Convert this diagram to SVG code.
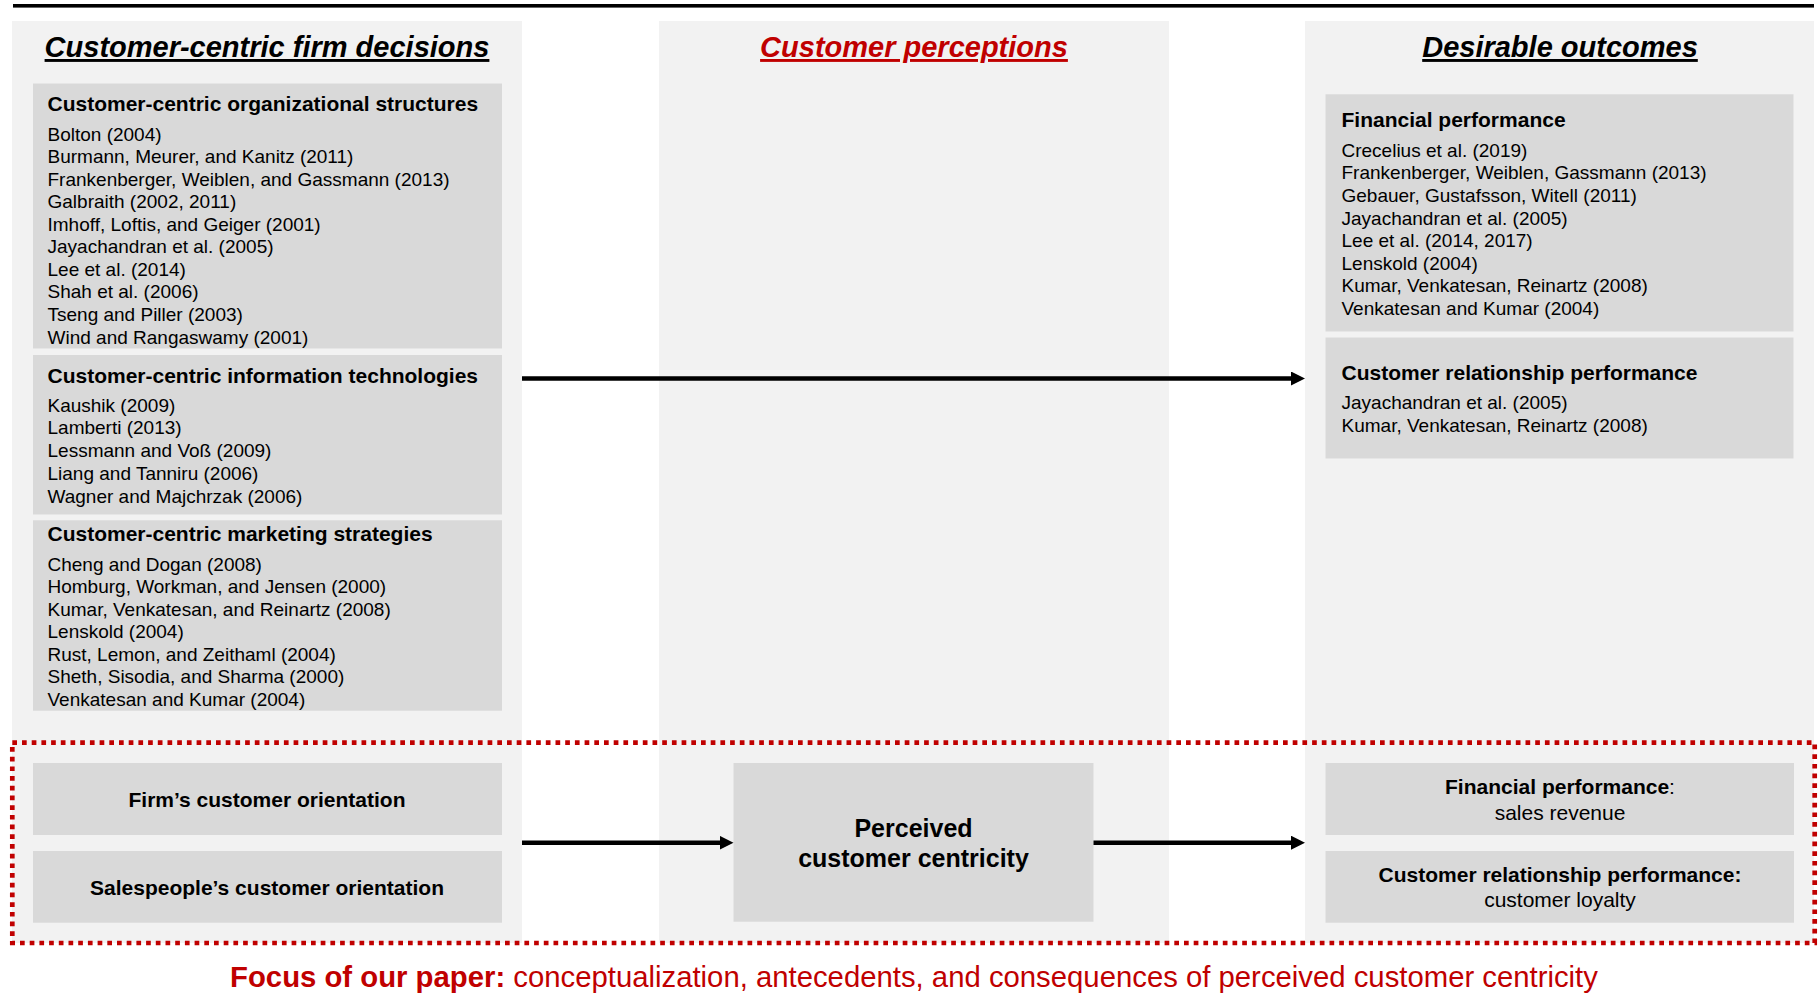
<svg xmlns="http://www.w3.org/2000/svg" width="1820" height="1006" viewBox="0 0 1820 1006">
  <style>
    text { font-family: "Liberation Sans", Arial, sans-serif; fill: #000; }
    .panel { fill: #F2F2F2; }
    .box { fill: #D9D9D9; }
    .title { font-size: 29px; font-weight: bold; font-style: italic; text-decoration: underline; text-anchor: middle; }
    .red { fill: #C00000; }
    .head { font-size: 21px; font-weight: bold; }
    .ref { font-size: 19px; }
    .lbl { font-size: 21px; font-weight: bold; text-anchor: middle; }
    .sub { font-size: 21px; font-weight: normal; }
    .big { font-size: 25px; font-weight: bold; text-anchor: middle; }
    .conn { stroke: #000; stroke-width: 4.5; fill: none; marker-end: url(#arrow); }
    .focus { fill: none; stroke: #C00000; stroke-width: 4.7; stroke-dasharray: 4.7 5; }
    .note { font-size: 29.3px; text-anchor: middle; fill: #C00000; }
  </style>
  <defs>
    <marker id="arrow" markerUnits="userSpaceOnUse" markerWidth="15" markerHeight="15" refX="1" refY="7" orient="auto">
      <path d="M0,0 L14,7 L0,14 Z" fill="#000"/>
    </marker>
  </defs>

  <rect width="1820" height="1006" fill="#FFFFFF"/>
  <!-- top rule -->
  <rect x="13" y="4" width="1801" height="3.6" fill="#000"/>

  <!-- column backgrounds -->
  <g id="columns">
    <rect class="panel" x="12" y="21" width="510" height="922"/>
    <rect class="panel" x="659" y="21" width="510" height="922"/>
    <rect class="panel" x="1305" y="21" width="509" height="922"/>
  </g>

  <!-- column headings -->
  <g id="headings">
    <text class="title" x="267" y="57">Customer-centric firm decisions</text>
    <text class="title red" x="914" y="57">Customer perceptions</text>
    <text class="title" x="1560" y="57">Desirable outcomes</text>
  </g>

  <g id="org-structures">
    <rect class="box" x="33" y="83.5" width="469" height="265"/>
    <text class="head" x="47.5" y="111">Customer-centric organizational structures</text>
    <text class="ref" x="47.5" y="140.5">
      <tspan x="47.5">Bolton (2004)</tspan>
      <tspan x="47.5" dy="22.57">Burmann, Meurer, and Kanitz (2011)</tspan>
      <tspan x="47.5" dy="22.57">Frankenberger, Weiblen, and Gassmann (2013)</tspan>
      <tspan x="47.5" dy="22.57">Galbraith (2002, 2011)</tspan>
      <tspan x="47.5" dy="22.57">Imhoff, Loftis, and Geiger (2001)</tspan>
      <tspan x="47.5" dy="22.57">Jayachandran et al. (2005)</tspan>
      <tspan x="47.5" dy="22.57">Lee et al. (2014)</tspan>
      <tspan x="47.5" dy="22.57">Shah et al. (2006)</tspan>
      <tspan x="47.5" dy="22.57">Tseng and Piller (2003)</tspan>
      <tspan x="47.5" dy="22.57">Wind and Rangaswamy (2001)</tspan>
    </text>
  </g>

  <g id="info-tech">
    <rect class="box" x="33" y="355" width="469" height="159.5"/>
    <text class="head" x="47.5" y="382.7">Customer-centric information technologies</text>
    <text class="ref" x="47.5" y="411.7">
      <tspan x="47.5">Kaushik (2009)</tspan>
      <tspan x="47.5" dy="22.75">Lamberti (2013)</tspan>
      <tspan x="47.5" dy="22.75">Lessmann and Voß (2009)</tspan>
      <tspan x="47.5" dy="22.75">Liang and Tanniru (2006)</tspan>
      <tspan x="47.5" dy="22.75">Wagner and Majchrzak (2006)</tspan>
    </text>
  </g>

  <g id="marketing">
    <rect class="box" x="33" y="520.3" width="469" height="190.4"/>
    <text class="head" x="47.5" y="540.7">Customer-centric marketing strategies</text>
    <text class="ref" x="47.5" y="570.7">
      <tspan x="47.5">Cheng and Dogan (2008)</tspan>
      <tspan x="47.5" dy="22.55">Homburg, Workman, and Jensen (2000)</tspan>
      <tspan x="47.5" dy="22.55">Kumar, Venkatesan, and Reinartz (2008)</tspan>
      <tspan x="47.5" dy="22.55">Lenskold (2004)</tspan>
      <tspan x="47.5" dy="22.55">Rust, Lemon, and Zeithaml (2004)</tspan>
      <tspan x="47.5" dy="22.55">Sheth, Sisodia, and Sharma (2000)</tspan>
      <tspan x="47.5" dy="22.55">Venkatesan and Kumar (2004)</tspan>
    </text>
  </g>

  <g id="financial">
    <rect class="box" x="1325.5" y="94.3" width="468" height="237.2"/>
    <text class="head" x="1341.5" y="126.7">Financial performance</text>
    <text class="ref" x="1341.5" y="156.7">
      <tspan x="1341.5">Crecelius et al. (2019)</tspan>
      <tspan x="1341.5" dy="22.6">Frankenberger, Weiblen, Gassmann (2013)</tspan>
      <tspan x="1341.5" dy="22.6">Gebauer, Gustafsson, Witell (2011)</tspan>
      <tspan x="1341.5" dy="22.6">Jayachandran et al. (2005)</tspan>
      <tspan x="1341.5" dy="22.6">Lee et al. (2014, 2017)</tspan>
      <tspan x="1341.5" dy="22.6">Lenskold (2004)</tspan>
      <tspan x="1341.5" dy="22.6">Kumar, Venkatesan, Reinartz (2008)</tspan>
      <tspan x="1341.5" dy="22.6">Venkatesan and Kumar (2004)</tspan>
    </text>
  </g>

  <g id="relationship">
    <rect class="box" x="1325.5" y="337.5" width="468" height="121"/>
    <text class="head" x="1341.5" y="380">Customer relationship performance</text>
    <text class="ref" x="1341.5" y="409.3">
      <tspan x="1341.5">Jayachandran et al. (2005)</tspan>
      <tspan x="1341.5" dy="22.7">Kumar, Venkatesan, Reinartz (2008)</tspan>
    </text>
  </g>

  <!-- study focus -->
  <g id="firm-orientation">
    <rect class="box" x="33" y="763" width="469" height="72"/>
    <text class="lbl" x="267" y="807.3">Firm’s customer orientation</text>
  </g>
  <g id="sales-orientation">
    <rect class="box" x="33" y="851" width="469" height="71.7"/>
    <text class="lbl" x="267" y="895">Salespeople’s customer orientation</text>
  </g>
  <g id="perceived-centricity">
    <rect class="box" x="733.5" y="763" width="360" height="158.7"/>
    <text class="big" x="913.5" y="836.7">Perceived</text>
    <text class="big" x="913.5" y="866.7">customer centricity</text>
  </g>
  <g id="sales-revenue">
    <rect class="box" x="1325.5" y="763" width="468.5" height="72"/>
    <text class="lbl" x="1560" y="794">Financial performance<tspan font-weight="normal">:</tspan></text>
    <text class="lbl sub" x="1560" y="820">sales revenue</text>
  </g>
  <g id="loyalty">
    <rect class="box" x="1325.5" y="851" width="468.5" height="71.7"/>
    <text class="lbl" x="1560" y="881.7">Customer relationship performance:</text>
    <text class="lbl sub" x="1560" y="907.3">customer loyalty</text>
  </g>

  <g id="connectors">
    <line class="conn" x1="522" y1="378.5" x2="1292" y2="378.5"/>
    <line class="conn" x1="522" y1="842.7" x2="720.5" y2="842.7"/>
    <line class="conn" x1="1093.5" y1="842.7" x2="1292" y2="842.7"/>
  </g>

  <g id="focus-frame">
    <rect class="focus" x="12.3" y="742.7" width="1802.4" height="200.3"/>
    <text class="note" x="914" y="986.7"><tspan font-weight="bold">Focus of our paper:</tspan> conceptualization, antecedents, and consequences of perceived customer centricity</text>
  </g>
</svg>
